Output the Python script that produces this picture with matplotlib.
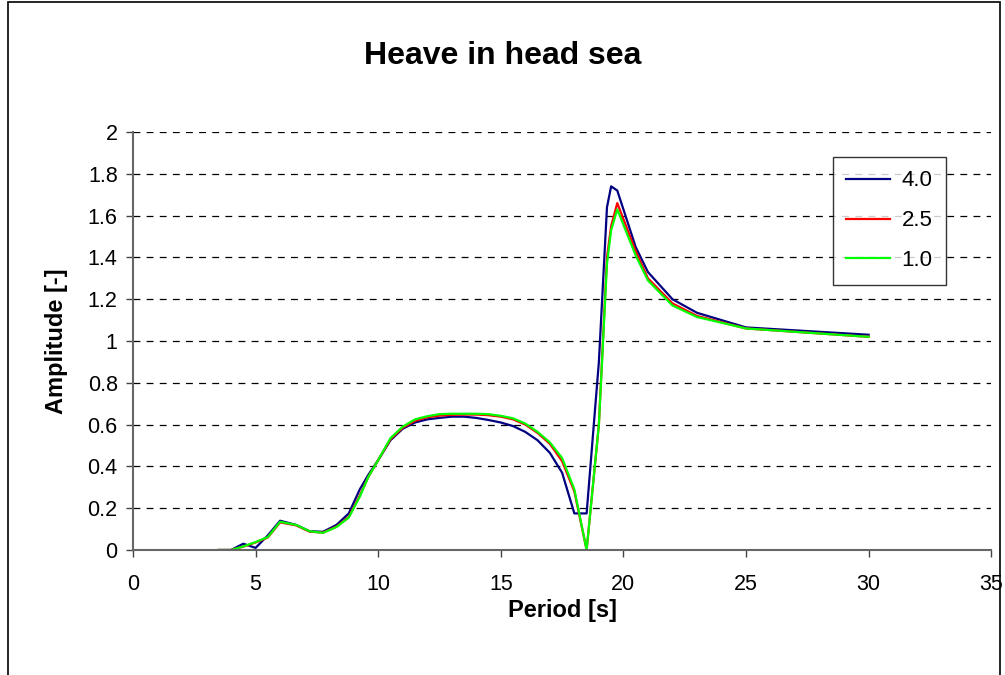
import matplotlib
matplotlib.use("Agg")
import matplotlib.pyplot as plt
from matplotlib.patches import Rectangle
from matplotlib.ticker import MultipleLocator, FuncFormatter

plt.rcParams['font.family'] = ['Liberation Sans', 'DejaVu Sans']

# periods [s] shared by the three series
period = [3.5, 4.0, 4.5, 5.0, 5.5, 6.0, 6.65, 7.2, 7.75, 8.3, 8.8, 9.25, 9.6, 10.0, 10.5,
          11.0, 11.5, 12.0, 12.5, 13.0, 13.5, 14.0, 14.5, 15.0, 15.5, 16.0, 16.5, 17.0,
          17.5, 18.0, 18.5, 19.0, 19.33, 19.5, 19.75, 20.5, 21.0, 22.0, 23.0, 25.0, 30.0]

amp_40 = [0.0, 0.0, 0.03, 0.01, 0.07, 0.14, 0.12, 0.09, 0.087, 0.12, 0.175, 0.29, 0.36, 0.43, 0.525,
          0.58, 0.61, 0.625, 0.632, 0.638, 0.638, 0.632, 0.622, 0.61, 0.593, 0.565, 0.525, 0.465,
          0.37, 0.175, 0.175, 0.9, 1.64, 1.74, 1.72, 1.45, 1.33, 1.2, 1.135, 1.065, 1.03]

amp_25 = [0.0, 0.0, 0.016, 0.036, 0.06, 0.132, 0.118, 0.088, 0.083, 0.112, 0.158, 0.26, 0.35, 0.43, 0.53,
          0.585, 0.618, 0.635, 0.643, 0.647, 0.648, 0.648, 0.645, 0.638, 0.625, 0.6, 0.56, 0.508,
          0.425, 0.28, 0.0, 0.6, 1.4, 1.55, 1.66, 1.43, 1.30, 1.18, 1.12, 1.06, 1.02]

amp_10 = [0.0, 0.0, 0.017, 0.038, 0.062, 0.135, 0.12, 0.09, 0.082, 0.11, 0.155, 0.255, 0.35, 0.43, 0.535,
          0.59, 0.625, 0.64, 0.65, 0.652, 0.652, 0.652, 0.65, 0.642, 0.63, 0.605, 0.565, 0.515,
          0.44, 0.29, 0.0, 0.6, 1.37, 1.53, 1.63, 1.41, 1.29, 1.17, 1.115, 1.06, 1.02]

labels = ['4.0', '2.5', '1.0']
colors = ['#000080', '#ff0000', '#00ff00']

fig = plt.figure(figsize=(10.05, 6.75), dpi=100)
ax = fig.add_axes([0.1323, 0.1852, 0.854, 0.6192])

# chart border
fig.patches.append(Rectangle((0.008, -0.01), 0.987, 1.007, transform=fig.transFigure,
                             fill=False, edgecolor='black', linewidth=1.2))

for y, lab, c in zip([amp_40, amp_25, amp_10], labels, colors):
    ax.plot(period, y, color=c, linewidth=1.6, label=lab)

ax.set_xlim(0, 35)
ax.set_ylim(0, 2)
ax.xaxis.set_major_locator(MultipleLocator(5))
ax.yaxis.set_major_locator(MultipleLocator(0.2))
ax.yaxis.set_major_formatter(FuncFormatter(lambda v, p: "%g" % round(v, 1)))

ax.grid(axis='y', color='black', linestyle=(0, (5.5, 5)), linewidth=0.9)
ax.set_axisbelow(True)
for s in ['top', 'right']:
    ax.spines[s].set_visible(False)
for s in ['left', 'bottom']:
    ax.spines[s].set_color('#666666')
    ax.spines[s].set_linewidth(1.5)
ax.tick_params(direction='out', length=5, width=1, color='#444444', labelsize=15.5, pad=6)
ax.tick_params(axis='x', pad=12)

ax.set_xlabel("Period [s]", fontsize=17, fontweight='bold', labelpad=3)
ax.set_ylabel("Amplitude [-]", fontsize=17, fontweight='bold', labelpad=14)
fig.suptitle("Heave in head sea", fontsize=23, fontweight='bold', y=0.94)

leg = ax.legend(loc='upper right', bbox_to_anchor=(0.947, 0.94), fontsize=16, frameon=True,
                fancybox=False, handlelength=2.0, borderpad=0.6, labelspacing=0.85,
                handletextpad=0.5, borderaxespad=0)
leg.get_frame().set_edgecolor('black')
leg.get_frame().set_linewidth(1.0)

plt.savefig('out.png', dpi=100)
